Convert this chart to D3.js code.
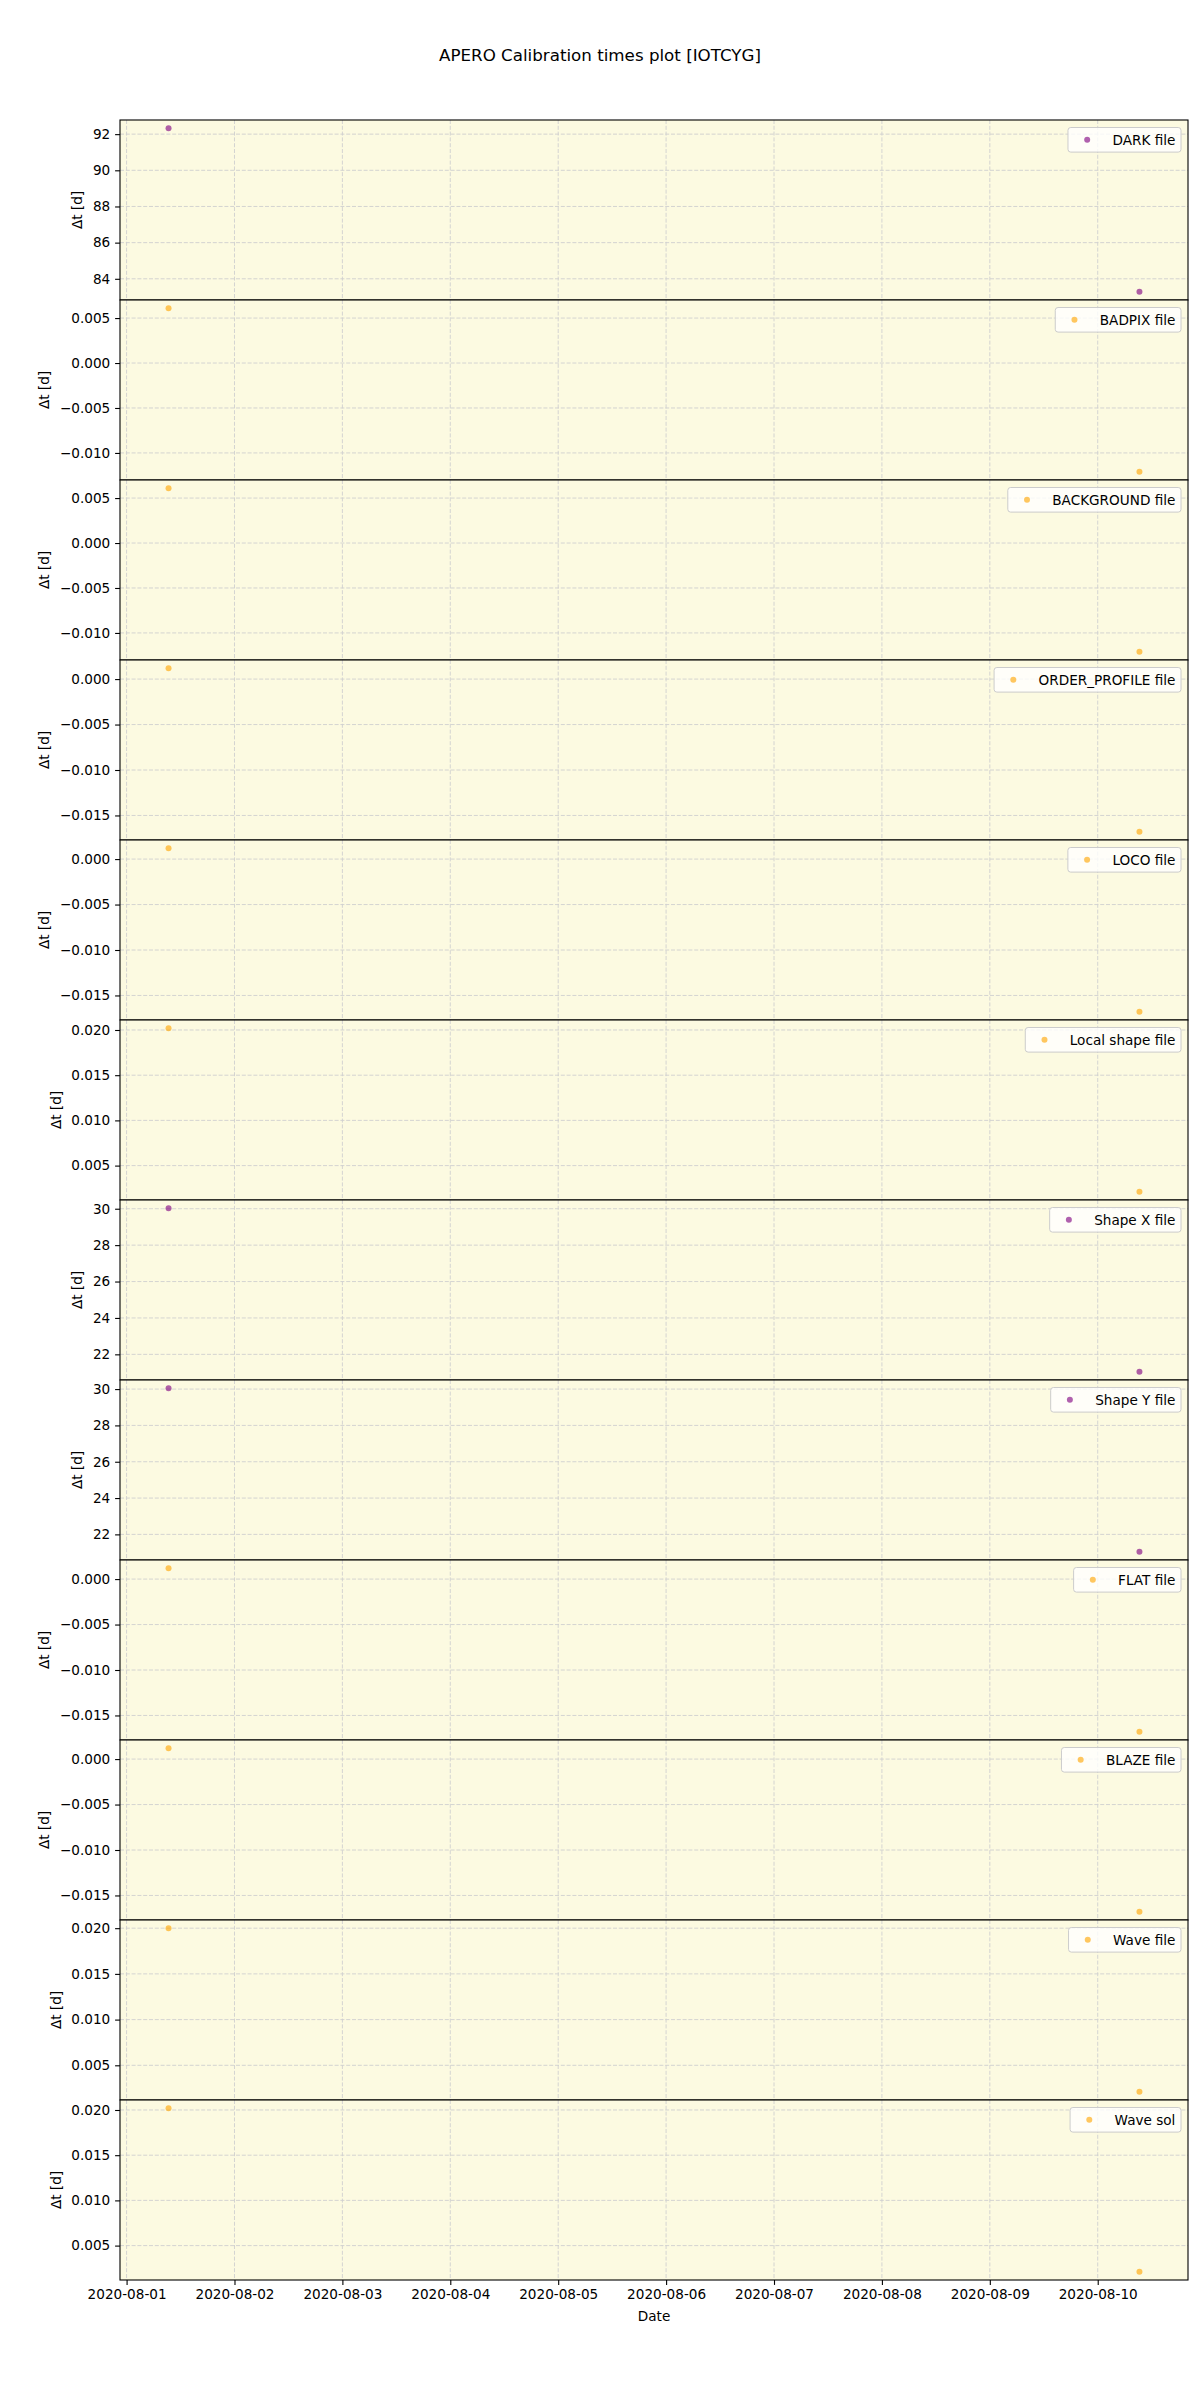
<!DOCTYPE html>
<html>
<head>
<meta charset="utf-8">
<script src="https://cdn.jsdelivr.net/npm/d3@7"></script>
<style>
  body { margin: 0; background: #fff; }
  svg { display: block; font-family: "DejaVu Sans", sans-serif; }
</style>
</head>
<body>
<svg id="chart" width="1200" height="2400"></svg>
<script>
// ---- data ----
const obsDates = ["2020-08-01T09:20:00Z", "2020-08-10T09:17:00Z"];
const calibNames = ["DARK file", "BADPIX file", "BACKGROUND file", "ORDER_PROFILE file", "LOCO file",
  "Local shape file", "Shape X file", "Shape Y file", "FLAT file", "BLAZE file", "Wave file", "Wave sol"];
const dtFirst = [92.33, 0.0061, 0.0061, 0.0012, 0.0012, 0.0202, 30.03, 30.05, 0.0012, 0.0012, 0.0200, 0.0202];
const dtLast  = [83.28, -0.0121, -0.0121, -0.0168, -0.0168, 0.0021, 21.04, 21.04, -0.0168, -0.0168, 0.0021, 0.0021];
const titleText = "APERO Calibration times plot [IOTCYG]";
const yLabelText = "Δt [d]";
const xLabelText = "Date";

// ---- styling / layout ----
const purpleFiles = new Set(["DARK file", "Shape X file", "Shape Y file"]);
const W = 1200, H = 2400;
const left = 120, right = 1188, top0 = 120, panelH = 180;
const fs = 13.6;
const bg = "#fcfae1";
const gridColor = "#cfcfcf";

const svg = d3.select("#chart");
svg.append("rect").attr("width", W).attr("height", H).attr("fill", "#fff");

svg.append("text").attr("x", 600).attr("y", 61).attr("text-anchor", "middle")
  .attr("font-size", 16.7).attr("fill", "#000").text(titleText);

const dates = obsDates.map(d => new Date(d));
const tExt = d3.extent(dates);
const tPad = (tExt[1] - tExt[0]) * 0.05;
const x = d3.scaleUtc()
  .domain([new Date(+tExt[0] - tPad), new Date(+tExt[1] + tPad)])
  .range([left, right]);
const xTicks = d3.utcDay.range(d3.utcDay.ceil(x.domain()[0]), x.domain()[1]);

const n = calibNames.length;
const bottomAll = top0 + n * panelH;

calibNames.forEach((name, i) => {
  const pTop = top0 + i * panelH, pBot = pTop + panelH;
  const vals = [dtFirst[i], dtLast[i]];
  const lo = d3.min(vals), hi = d3.max(vals), pad = (hi - lo) * 0.05;
  const y = d3.scaleLinear().domain([lo - pad, hi + pad]).range([pBot, pTop]);
  const yt = y.ticks(5);
  const big = Math.abs(hi) > 1;
  const fmt = big ? d3.format("d") : d3.format(".3f");

  const g = svg.append("g");
  g.append("rect").attr("x", left).attr("y", pTop).attr("width", right - left).attr("height", panelH)
    .attr("fill", bg);

  // grid
  g.selectAll("line.vg").data(xTicks).join("line")
    .attr("x1", d => x(d)).attr("x2", d => x(d)).attr("y1", pTop).attr("y2", pBot)
    .attr("stroke", gridColor).attr("stroke-width", 0.9).attr("stroke-dasharray", "4,1.8");
  g.selectAll("line.hg").data(yt).join("line")
    .attr("x1", left).attr("x2", right).attr("y1", d => y(d)).attr("y2", d => y(d))
    .attr("stroke", gridColor).attr("stroke-width", 0.9).attr("stroke-dasharray", "4,1.8");

  // y axis
  const ya = g.append("g").attr("transform", `translate(${left},0)`)
    .call(d3.axisLeft(y).tickValues(yt).tickFormat(fmt).tickSize(4.9).tickPadding(4.9));
  ya.select(".domain").remove();
  ya.selectAll(".tick line").attr("stroke", "#000").attr("stroke-width", 1.1);
  ya.selectAll(".tick text").attr("font-size", fs).attr("font-family", "DejaVu Sans").attr("fill", "#000");
  let maxW = 0;
  ya.selectAll(".tick text").each(function () { maxW = Math.max(maxW, this.getComputedTextLength()); });
  const lx = left - 4.9 - 4.9 - maxW - 5.6 - 5;
  g.append("text").attr("transform", `translate(${lx},${(pTop + pBot) / 2}) rotate(-90)`)
    .attr("text-anchor", "middle").attr("font-size", fs).attr("fill", "#000").text(yLabelText);

  // points
  const col = purpleFiles.has(name) ? "#800080" : "#ffa500";
  g.selectAll("circle").data(vals).join("circle")
    .attr("cx", (d, k) => x(dates[k])).attr("cy", d => y(d)).attr("r", 3)
    .attr("fill", col).attr("fill-opacity", 0.62);

  // frame
  g.append("rect").attr("x", left).attr("y", pTop).attr("width", right - left).attr("height", panelH)
    .attr("fill", "none").attr("stroke", "#000").attr("stroke-width", 1.1);

  // legend
  const lg = g.append("g");
  const lt = lg.append("text").attr("font-size", fs).attr("fill", "#000").text(name);
  const tw = lt.node().getComputedTextLength();
  const bw = 44.5 + tw + 5.6, bh = 24.6;
  const bx = right - 7 - bw, by = pTop + 7.5;
  lg.insert("rect", "text").attr("x", bx).attr("y", by).attr("width", bw).attr("height", bh)
    .attr("rx", 2.8).attr("fill", "#fff").attr("fill-opacity", 0.8)
    .attr("stroke", "#cccccc").attr("stroke-width", 1);
  lt.attr("x", bx + 44.5).attr("y", by + bh / 2 + 5);
  lg.append("circle").attr("cx", bx + 19.2).attr("cy", by + bh / 2).attr("r", 3)
    .attr("fill", col).attr("fill-opacity", 0.62);
});

// x axis at bottom
const xa = svg.append("g").attr("transform", `translate(0,${bottomAll})`)
  .call(d3.axisBottom(x).tickValues(xTicks).tickFormat(d3.utcFormat("%Y-%m-%d")).tickSize(4.9).tickPadding(4.9));
xa.select(".domain").remove();
xa.selectAll(".tick line").attr("stroke", "#000").attr("stroke-width", 1.1);
xa.selectAll(".tick text").attr("font-size", fs).attr("font-family", "DejaVu Sans").attr("fill", "#000");

svg.append("text").attr("x", (left + right) / 2).attr("y", 2321).attr("text-anchor", "middle")
  .attr("font-size", fs).attr("fill", "#000").text(xLabelText);
</script>
</body>
</html>
